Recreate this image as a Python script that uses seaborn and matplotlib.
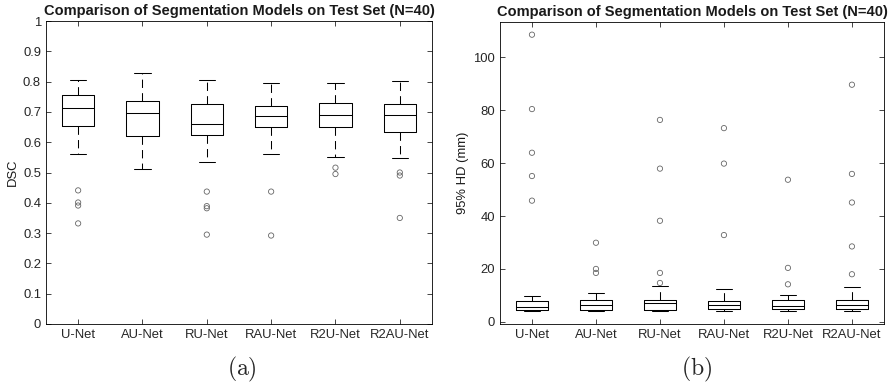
import matplotlib.pyplot as plt
import pandas as pd
import seaborn as sns

models = ["U-Net", "AU-Net", "RU-Net", "RAU-Net", "R2U-Net", "R2AU-Net"]

# (a) DSC: whisker ends, quartiles and median
dsc_low = [0.560, 0.513, 0.536, 0.560, 0.550, 0.547]
dsc_q1 = [0.653, 0.622, 0.623, 0.649, 0.649, 0.635]
dsc_med = [0.712, 0.696, 0.659, 0.686, 0.690, 0.690]
dsc_q3 = [0.756, 0.737, 0.725, 0.718, 0.728, 0.725]
dsc_high = [0.805, 0.830, 0.805, 0.796, 0.796, 0.803]
dsc_outliers = [
    [0.441, 0.401, 0.391, 0.332],
    [],
    [0.437, 0.389, 0.382, 0.295],
    [0.437, 0.292],
    [0.516, 0.495],
    [0.500, 0.490, 0.350],
]

# (b) 95% Hausdorff distance in mm
hd_low = [4.1, 4.1, 4.1, 4.1, 4.1, 4.1]
hd_q1 = [4.6, 4.6, 4.6, 5.0, 5.0, 5.0]
hd_med = [5.75, 6.25, 7.3, 6.4, 6.1, 6.4]
hd_q3 = [8.0, 8.4, 8.4, 8.0, 8.4, 8.4]
hd_high = [9.9, 10.9, 13.5, 12.6, 10.2, 13.0]
hd_outliers = [
    [45.8, 55.1, 63.9, 80.4, 108.5],
    [18.5, 20.0, 29.9],
    [14.7, 18.5, 38.2, 57.9, 76.3],
    [32.8, 59.8, 73.2],
    [14.2, 20.4, 53.7],
    [18.0, 28.5, 45.1, 55.9, 89.6],
]

title = "Comparison of Segmentation Models on Test Set (N=40)"


def box_frame(low, q1, med, q3, high):
    rows = []
    for i, m in enumerate(models):
        for v in (low[i], q1[i], med[i], q3[i], high[i]):
            rows.append((m, v))
    return pd.DataFrame(rows, columns=["model", "value"])


def outlier_frame(outliers):
    rows = [(m, v) for m, vals in zip(models, outliers) for v in vals]
    return pd.DataFrame(rows, columns=["model", "value"])


sns.set_style("ticks")
plt.rcParams["font.family"] = ["Liberation Sans", "DejaVu Sans"]
plt.rcParams["mathtext.fontset"] = "cm"
plt.rcParams["axes.edgecolor"] = "black"
plt.rcParams["axes.linewidth"] = 0.6

fig = plt.figure(figsize=(8.89, 3.87), dpi=100)
ax1 = fig.add_axes([0.0517, 0.1628, 0.4342, 0.7829])
ax2 = fig.add_axes([0.5624, 0.1628, 0.4319, 0.7804])


def draw(ax, box_df, out_df, ylabel, ylim, yticks, yticklabels):
    sns.boxplot(
        data=box_df, x="model", y="value", order=models, ax=ax,
        whis=(0, 100), width=0.5, fill=False, color="black",
        linewidth=0.75, showfliers=False,
    )
    # MATLAB-style dashed whiskers
    for c in ax.containers:
        for w in getattr(c, "whiskers", []):
            w.set_linestyle((0, (8, 5)))
    sns.stripplot(
        data=out_df, x="model", y="value", order=models, ax=ax,
        jitter=False, size=3.8, color="0.4", edgecolor="0.4", linewidth=0.6,
    )
    for coll in ax.collections:
        coll.set_facecolor("none")
        coll.set_edgecolor("0.4")
        coll.set_linewidth(0.6)

    ax.set_xlim(-0.5, len(models) - 0.5)
    ax.set_ylim(*ylim)
    ax.set_yticks(yticks)
    ax.set_yticklabels(yticklabels)
    ax.set_xlabel("")
    ax.set_ylabel(ylabel, fontsize=9.4, labelpad=3, color="0.1")
    ax.set_title(title, fontsize=10.5, fontweight="bold", pad=4, color="0.1")
    ax.tick_params(direction="in", length=3.5, width=0.6, top=True, right=True,
                   labelsize=9.4, pad=3.5, labelcolor="0.15")
    for s in ax.spines.values():
        s.set_visible(True)
        s.set_color("black")
        s.set_linewidth(0.6)


draw(ax1, box_frame(dsc_low, dsc_q1, dsc_med, dsc_q3, dsc_high),
     outlier_frame(dsc_outliers), "DSC", (0, 1),
     [i / 10 for i in range(11)],
     ["0", "0.1", "0.2", "0.3", "0.4", "0.5", "0.6", "0.7", "0.8", "0.9", "1"])
draw(ax2, box_frame(hd_low, hd_q1, hd_med, hd_q3, hd_high),
     outlier_frame(hd_outliers), "95% HD (mm)", (-0.8, 113.3),
     [0, 20, 40, 60, 80, 100], ["0", "20", "40", "60", "80", "100"])

fig.text(0.272, 0.045, r"$\mathrm{(a)}$", ha="center", va="center", fontsize=17)
fig.text(0.783, 0.045, r"$\mathrm{(b)}$", ha="center", va="center", fontsize=17)

fig.savefig("out.png", dpi=100)
